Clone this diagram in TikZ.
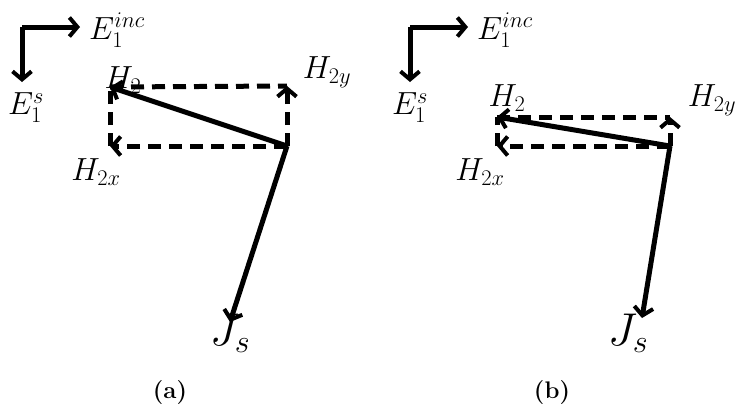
\RequirePackage{fix-cm}
\documentclass[tikz,border=0pt]{standalone}
\usetikzlibrary{arrows.meta}
\begin{document}
\begin{tikzpicture}[x=1pt,y=-1pt,
 vec/.style={line width=5pt,-{Straight Barb[length=8pt,width=19pt,line width=4pt]}},
 dvec/.style={vec,dash pattern=on 13pt off 8pt},
 dl/.style={line width=5pt,dash pattern=on 13pt off 8pt},
 lab/.style={font=\fontsize{32}{34}\selectfont,inner sep=0pt}]
\useasboundingbox (0,0) rectangle (736,416);
% panel a
\coordinate (ac) at (22,27);
\coordinate (ae) at (80,27);
\coordinate (as) at (22,82);
\draw[vec] (ac) -- (ae);
\draw[vec] (ac) -- (as);
\node[lab] (aEi) at (117,30) {$E_1^{inc}$};
\node[lab] (aEs) at (26,108) {$E_1^{s}$};
\coordinate (aO) at (287,146);
\coordinate (aH) at (110,87);
\coordinate (aY) at (287,86);
\coordinate (aX) at (110,146);
\draw[dl] (aH) -- (aY);
\draw[dl] (aX) -- (aH);
\draw[dvec] (aO) -- (aY);
\draw[dvec] (aO) -- (aX);
\coordinate (aJ) at (230,322);
\draw[vec] (aO) -- (aH);
\draw[vec] (aO) -- (aJ);
\node[lab] (aH2) at (123,80) {$H_2$};
\node[lab] (aH2y) at (327,72) {$H_{2y}$};
\node[lab] (aH2x) at (96,172) {$H_{2x}$};
\node[lab,font=\fontsize{46}{48}\selectfont] (aJs) at (230,333) {$J_s$};
\node[font=\fontsize{24}{26}\selectfont\bfseries] (ta) at (170,393) {(a)};
% panel b
\coordinate (bc) at (410,27);
\coordinate (be) at (468,27);
\coordinate (bs) at (410,82);
\draw[vec] (bc) -- (be);
\draw[vec] (bc) -- (bs);
\node[lab] (bEi) at (505,30) {$E_1^{inc}$};
\node[lab] (bEs) at (410,108) {$E_1^{s}$};
\coordinate (bO) at (670,146);
\coordinate (bH) at (497,117);
\coordinate (bY) at (670,117);
\coordinate (bX) at (497,146);
\draw[dl] (bH) -- (bY);
\draw[dl] (bX) -- (bH);
\draw[dvec] (bO) -- (bY);
\draw[dvec] (bO) -- (bX);
\coordinate (bJ) at (642,318);
\draw[vec] (bO) -- (bH);
\draw[vec] (bO) -- (bJ);
\node[lab] (bH2) at (507,98) {$H_2$};
\node[lab] (bH2y) at (712,100) {$H_{2y}$};
\node[lab] (bH2x) at (480,172) {$H_{2x}$};
\node[lab,font=\fontsize{46}{48}\selectfont] (bJs) at (628,333) {$J_s$};
\node[font=\fontsize{24}{26}\selectfont\bfseries] (tb) at (552,393) {(b)};
\end{tikzpicture}
\end{document}
